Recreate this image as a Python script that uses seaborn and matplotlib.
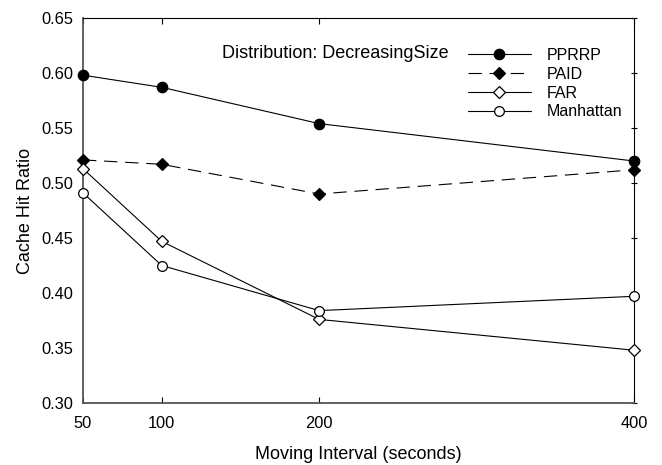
import matplotlib
matplotlib.use("Agg")
import matplotlib.pyplot as plt
import seaborn as sns
import pandas as pd

# Moving interval (seconds) and cache hit ratio per replacement policy
intervals = [50, 100, 200, 400]
pprrp = [0.598, 0.587, 0.554, 0.520]
paid = [0.521, 0.517, 0.490, 0.512]
far = [0.513, 0.447, 0.376, 0.348]
manhattan = [0.491, 0.425, 0.384, 0.397]

series_names = ["PPRRP", "PAID", "FAR", "Manhattan"]
series_values = [pprrp, paid, far, manhattan]

y_ticks = [0.30, 0.35, 0.40, 0.45, 0.50, 0.55, 0.60, 0.65]

sns.set_theme(style="white")
plt.rcParams["font.family"] = ["Liberation Sans", "DejaVu Sans"]
plt.rcParams["text.color"] = "black"
plt.rcParams["axes.labelcolor"] = "black"
plt.rcParams["xtick.color"] = "black"
plt.rcParams["ytick.color"] = "black"

rows = []
for name, vals in zip(series_names, series_values):
    for x, y in zip(intervals, vals):
        rows.append({"interval": x, "ratio": y, "policy": name})
df = pd.DataFrame(rows)

styles = {
    "PPRRP": dict(marker="o", mfc="black", ms=7.5, ls="-"),
    "PAID": dict(marker="D", mfc="black", ms=6.2, ls=(0, (12, 7))),
    "FAR": dict(marker="D", mfc="white", ms=6.2, ls="-"),
    "Manhattan": dict(marker="o", mfc="white", ms=7.0, ls="-"),
}

fig = plt.figure(figsize=(6.62, 4.65), dpi=100)
ax = fig.add_axes([0.1254, 0.1333, 0.8323, 0.828])

for name in series_names:
    st = styles[name]
    sub = df[df["policy"] == name]
    sns.lineplot(data=sub, x="interval", y="ratio", ax=ax, color="black",
                 linewidth=0.8, linestyle=st["ls"], marker=st["marker"],
                 markersize=st["ms"], markerfacecolor=st["mfc"],
                 markeredgecolor="black", markeredgewidth=0.9,
                 label=name, clip_on=False, zorder=3)

ax.set_xlim(50, 400)
ax.set_ylim(0.30, 0.65)
ax.set_xticks(intervals)
ax.set_xticklabels([str(v) for v in intervals])
ax.set_yticks(y_ticks)
ax.set_yticklabels([f"{v:.2f}" for v in y_ticks])

ax.set_xlabel("Moving Interval (seconds)", fontsize=13, labelpad=11)
ax.set_ylabel("Cache Hit Ratio", fontsize=13, labelpad=5)

for s in ["left", "bottom"]:
    ax.spines[s].set_color("#555555")
    ax.spines[s].set_linewidth(1.3)
for s in ["top", "right"]:
    ax.spines[s].set_color("black")
    ax.spines[s].set_linewidth(0.8)

ax.tick_params(axis="x", which="both", direction="in", length=4, width=0.8,
               top=True, bottom=True, labelsize=11.8, pad=9)
ax.tick_params(axis="y", which="both", direction="inout", length=5, width=0.8,
               left=True, right=True, labelsize=11.8, pad=4.5)
for t in ax.yaxis.get_major_ticks():
    t.tick1line.set_visible(False)

fig.text(335 / 662, 1 - 54 / 465, "Distribution: DecreasingSize",
         ha="center", va="center", fontsize=13, color="black")

leg = ax.legend(loc="upper left", bbox_to_anchor=(0.687, 0.939), frameon=False,
                fontsize=11.5, handlelength=3.95, handletextpad=1.0,
                labelspacing=0.24, borderaxespad=0)

fig.savefig("out.png", dpi=100)
